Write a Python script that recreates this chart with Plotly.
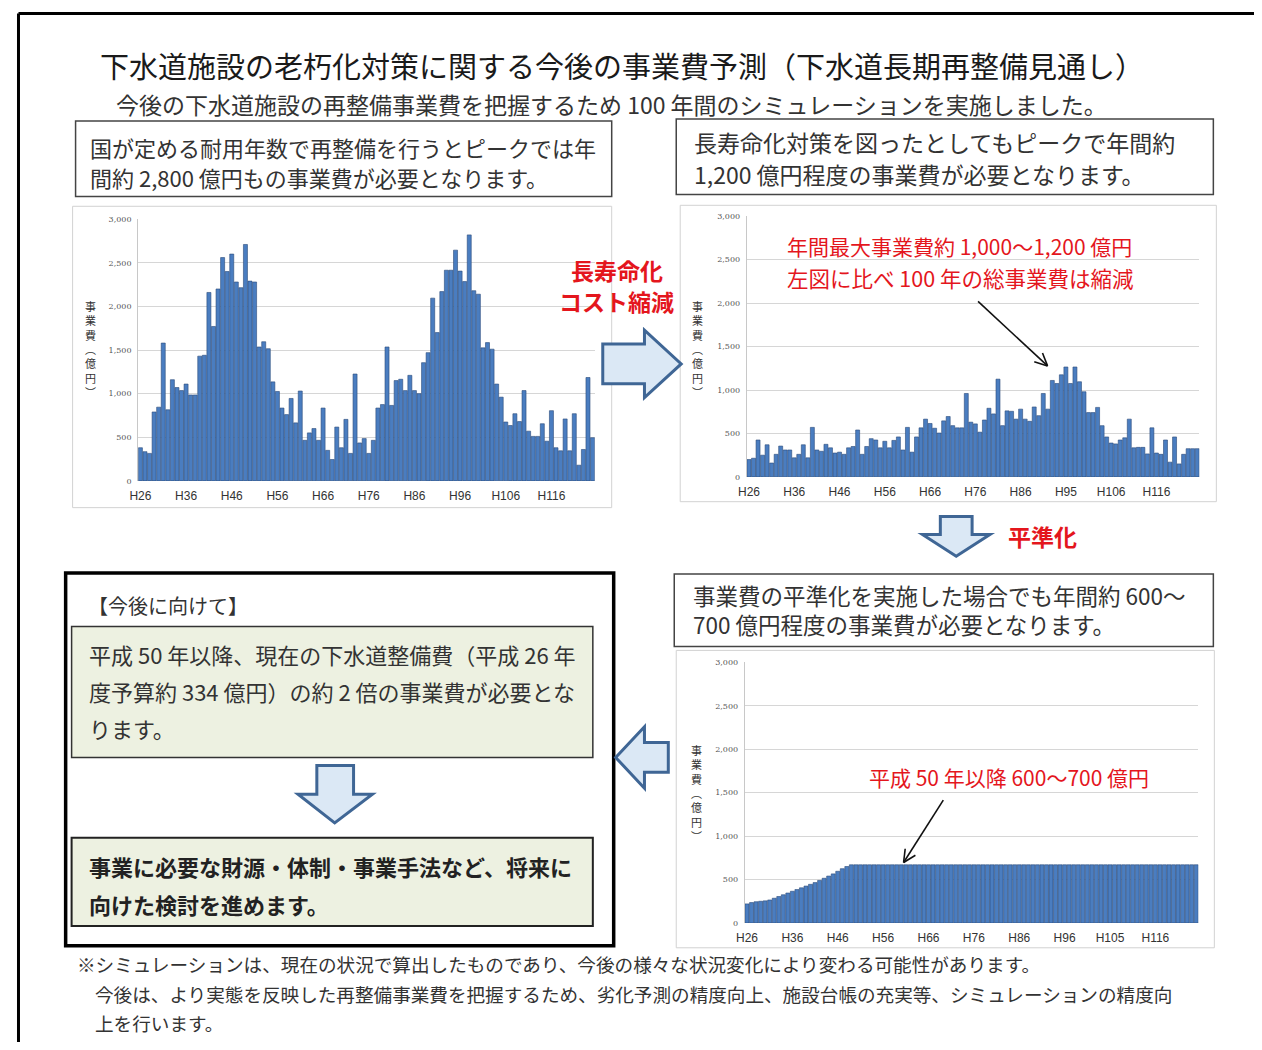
import math
import plotly.graph_objects as go

# The page body keeps an 8px margin, so the figure is drawn offset by it.
OX, OY = 8, 8
FW, FH = 1254, 1034

# ---------------- data ----------------
years = list(range(26, 126))  # 平成26年〜平成125年 (100年間)

# 国が定める耐用年数で再整備 (億円)
cost_standard = [380, 335, 315, 790, 845, 1580, 815, 1160, 1070, 1035,
                 1110, 985, 985, 1430, 1440, 2160, 1770, 2200, 2560, 2400,
                 2600, 2280, 2215, 2710, 2290, 2280, 1535, 1595, 1515, 1135,
                 1025, 835, 760, 945, 665, 1030, 465, 550, 600, 465,
                 835, 350, 245, 617, 380, 705, 315, 1225, 435, 485,
                 315, 465, 835, 875, 1535, 865, 1150, 1165, 1035, 1210,
                 1035, 1000, 1355, 1470, 2095, 1700, 2170, 2415, 2415, 2645,
                 2405, 2285, 2820, 2180, 2140, 1525, 1585, 1510, 1110, 960,
                 675, 635, 770, 680, 1035, 570, 510, 510, 655, 455,
                 805, 380, 345, 710, 345, 770, 180, 360, 1185, 495]

# 長寿命化対策後 (億円)
cost_longlife = [200, 215, 425, 250, 370, 160, 260, 355, 310, 310,
                 220, 260, 370, 220, 570, 310, 295, 375, 335, 275,
                 285, 260, 335, 350, 540, 260, 350, 440, 425, 335,
                 410, 335, 420, 460, 310, 570, 285, 460, 565, 665,
                 615, 560, 505, 645, 695, 590, 565, 565, 960, 630,
                 610, 515, 655, 790, 725, 1125, 590, 760, 755, 665,
                 780, 665, 640, 805, 705, 960, 780, 1110, 1075, 1175,
                 1265, 1075, 1265, 1095, 980, 740, 740, 800, 590, 460,
                 390, 380, 425, 450, 665, 335, 340, 340, 265, 565,
                 275, 260, 425, 170, 460, 150, 260, 325, 325, 325]

# 平準化後 (億円)
cost_leveled = [220, 235, 245, 250, 255, 265, 285, 305, 325, 345,
                365, 385, 405, 425, 445, 465, 490, 515, 540, 565,
                595, 625, 650, 670, 670, 670, 670, 670, 670, 670,
                670, 670, 670, 670, 670, 670, 670, 670, 670, 670,
                670, 670, 670, 670, 670, 670, 670, 670, 670, 670,
                670, 670, 670, 670, 670, 670, 670, 670, 670, 670,
                670, 670, 670, 670, 670, 670, 670, 670, 670, 670,
                670, 670, 670, 670, 670, 670, 670, 670, 670, 670,
                670, 670, 670, 670, 670, 670, 670, 670, 670, 670,
                670, 670, 670, 670, 670, 670, 670, 670, 670, 670]

x_tickvals = [26, 36, 46, 56, 66, 76, 86, 96, 106, 116]
x_ticktext1 = ["H26", "H36", "H46", "H56", "H66", "H76", "H86", "H96", "H106", "H116"]
x_ticktext2 = ["H26", "H36", "H46", "H56", "H66", "H76", "H86", "H95", "H106", "H116"]
x_ticktext3 = ["H26", "H36", "H46", "H56", "H66", "H76", "H86", "H96", "H105", "H116"]
y_tickvals = [0, 500, 1000, 1500, 2000, 2500, 3000]
y_ticktext = ["0", "500", "1,000", "1,500", "2,000", "2,500", "3,000"]

# ---------------- helpers ----------------
def X(p):
    return (p - OX) / FW


def Y(p):
    return 1 - (p - OY) / FH


JP = "Noto Sans CJK JP"
BAR_FILL = "#4a7dc0"
BAR_LINE = "#2a4a78"
RED = "#e4161d"

fig = go.Figure()

for i, vals in enumerate([cost_standard, cost_longlife, cost_leveled]):
    sfx = "" if i == 0 else str(i + 1)
    fig.add_trace(go.Bar(
        x=years, y=vals, xaxis="x" + sfx, yaxis="y" + sfx,
        marker=dict(color=BAR_FILL, line=dict(color=BAR_LINE, width=0.6)),
        showlegend=False, hoverinfo="x+y",
    ))

plots = [
    ((130, 590), (217, 481), x_ticktext1),
    ((743, 1199), (214, 477), x_ticktext2),
    ((741, 1198), (664, 927), x_ticktext3),
]

layout_axes = {}
for i, ((x0, x1), (y0, y1), ttxt) in enumerate(plots):
    sfx = "" if i == 0 else str(i + 1)
    layout_axes["xaxis" + sfx] = dict(
        domain=[X(x0), X(x1)], range=[25.5, 125.5], anchor="y" + sfx,
        tickvals=x_tickvals, ticktext=ttxt, showgrid=False, zeroline=False,
        showline=False, ticks="", fixedrange=True, ticklabelstandoff=6,
        tickfont=dict(family="Liberation Sans", size=12, color="#333"),
    )
    layout_axes["yaxis" + sfx] = dict(
        domain=[Y(y1), Y(y0)], range=[0, 3000], anchor="x" + sfx,
        tickvals=y_tickvals, ticktext=y_ticktext, showgrid=True,
        gridcolor="#d6d6d6", gridwidth=1, zeroline=False, showline=True,
        linecolor="#c8c8c8", linewidth=1, ticks="", fixedrange=True,
        ticklabelstandoff=4,
        tickfont=dict(family="DejaVu Serif", size=8, color="#555"),
    )

shapes = []
annotations = []


def rect(x0, y0, x1, y1, color="#333", width=1.5, fill=None, layer="below"):
    shapes.append(dict(type="rect", xref="paper", yref="paper",
                       x0=X(x0), x1=X(x1), y0=Y(y1), y1=Y(y0),
                       line=dict(color=color, width=width),
                       fillcolor=fill if fill else "rgba(0,0,0,0)", layer=layer))


def line(x0, y0, x1, y1, color="#000", width=1.5):
    shapes.append(dict(type="line", xref="paper", yref="paper",
                       x0=X(x0), x1=X(x1), y0=Y(y0), y1=Y(y1),
                       line=dict(color=color, width=width), layer="above"))


def poly(pts, fill="#dbe8f5", color="#3f6695", width=3):
    d = "M " + " L ".join(f"{X(a):.5f},{Y(b):.5f}" for a, b in pts) + " Z"
    shapes.append(dict(type="path", xref="paper", yref="paper", path=d,
                       fillcolor=fill, line=dict(color=color, width=width),
                       layer="above"))


def txt(x, y, s, size, color="#222", xanchor="left", family=JP, yanchor="middle"):
    annotations.append(dict(xref="paper", yref="paper", x=X(x), y=Y(y), text=s,
                            showarrow=False, xanchor=xanchor, yanchor=yanchor,
                            font=dict(family=family, size=size, color=color),
                            align="left"))


def vee_arrow(x0, y0, x1, y1, head=14, spread=0.45):
    line(x0, y0, x1, y1, "#111", 1.6)
    ang = math.atan2(y0 - y1, x0 - x1)
    for s in (spread, -spread):
        line(x1, y1, x1 + head * math.cos(ang + s), y1 + head * math.sin(ang + s), "#111", 1.6)


# outer border
line(9.5, 9.5, 1262, 9.5, "#000", 3)
line(9.5, 9.5, 9.5, 1050, "#000", 3)

# title
txt(90, 61, "下水道施設の老朽化対策に関する今後の事業費予測（下水道長期再整備見通し）", 29, "#1a1a1a")
txt(106, 101, "今後の下水道施設の再整備事業費を把握するため 100 年間のシミュレーションを実施しました。", 23, "#333")

# top boxes
rect(67, 118, 607, 194, "#444", 1.5)
txt(80, 144, "国が定める耐用年数で再整備を行うとピークでは年", 22, "#333")
txt(80, 174, "間約 2,800 億円もの事業費が必要となります。", 22, "#333")

rect(672, 116, 1213, 192, "#444", 1.5)
txt(688, 139, "長寿命化対策を図ったとしてもピークで年間約", 23, "#333")
txt(688, 171, "1,200 億円程度の事業費が必要となります。", 23, "#333")

# chart frames
rect(64, 204, 607, 508, "#d2d2d2", 1)
rect(676, 203, 1216, 502, "#d2d2d2", 1)
rect(672, 652, 1214, 952, "#d2d2d2", 1)

# y-axis titles (vertical)
vt = "事<br>業<br>費<br>︵<br>億<br>円<br>︶"
txt(82, 348, vt, 11, "#333", xanchor="center")
txt(693, 348, vt, 11, "#333", xanchor="center")
txt(692, 796, vt, 11, "#333", xanchor="center")

# 長寿命化 コスト縮減
txt(612, 268, "<b>長寿命化</b>", 23, RED, xanchor="center")
txt(612, 300, "<b>コスト縮減</b>", 23, RED, xanchor="center")

# right block arrow
poly([(598, 343), (640, 343), (640, 329), (677, 363), (640, 397), (640, 383), (598, 383)])

# chart 2 red note + arrow
txt(782, 244, "年間最大事業費約 1,000～1,200 億円", 21, RED)
txt(782, 276, "左図に比べ 100 年の総事業費は縮減", 21.5, RED)
vee_arrow(976, 300, 1046, 365)

# down block arrow + 平準化
poly([(938, 517), (970, 517), (970, 535), (988, 535), (954, 557), (920, 535), (938, 535)])
txt(1004, 537, "<b>平準化</b>", 23, RED)

# box 3
rect(670, 575, 1213, 648, "#444", 1.5)
txt(687, 611, "事業費の平準化を実施した場合でも年間約 600～<br>700 億円程度の事業費が必要となります。", 22.5, "#333")

# chart 3 red note + arrow
txt(864, 780, "平成 50 年以降 600～700 億円", 21, RED)
vee_arrow(941, 803, 901, 866)

# left block arrow
poly([(664, 745), (640, 745), (640, 729), (611, 760), (640, 791), (640, 775), (664, 775)])

# bottom-left panel
rect(57, 574, 609, 950, "#000", 3.5)
txt(78, 607, "【今後に向けて】", 20, "#333")
rect(63, 628, 588, 760, "#333", 1.5, fill="#edf1e1", layer="below")
txt(79, 656, "平成 50 年以降、現在の下水道整備費（平成 26 年", 22, "#333")
txt(79, 693, "度予算約 334 億円）の約 2 倍の事業費が必要とな", 22, "#333")
txt(79, 730, "ります。", 22, "#333")
poly([(310, 768), (347, 768), (347, 797), (366, 797), (328, 826), (291, 797), (310, 797)])
rect(63, 841, 588, 930, "#222", 2, fill="#edf1e1", layer="below")
txt(79, 870, "<b>事業に必要な財源・体制・事業手法など、将来に</b>", 22, "#222")
txt(79, 908, "<b>向けた検討を進めます。</b>", 22, "#222")

# footer
txt(66, 968, "※シミュレーションは、現在の状況で算出したものであり、今後の様々な状況変化により変わる可能性があります。", 18.6, "#333")
txt(85, 998, "今後は、より実態を反映した再整備事業費を把握するため、劣化予測の精度向上、施設台帳の充実等、シミュレーションの精度向", 18.6, "#333")
txt(85, 1027, "上を行います。", 18.6, "#333")

fig.update_layout(
    width=FW, height=FH, margin=dict(l=0, r=0, t=0, b=0),
    paper_bgcolor="white", plot_bgcolor="white",
    bargap=0.12, shapes=shapes, annotations=annotations,
    font=dict(family=JP), showlegend=False,
    **layout_axes,
)

fig.write_html("out.html", config={"displayModeBar": False})
